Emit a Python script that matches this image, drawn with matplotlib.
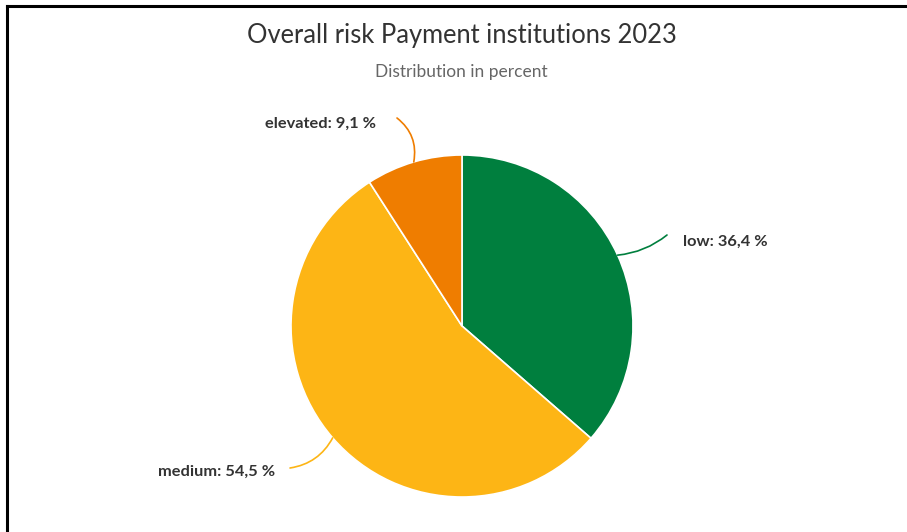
import matplotlib.pyplot as plt
import numpy as np

# ---------- DATA ----------
categories = ["low", "medium", "elevated"]
shares = [36.4, 54.5, 9.1]
colors = ["#007f3e", "#fdb515", "#ef7d00"]

title = "Overall risk Payment institutions 2023"
subtitle = "Distribution in percent"

W, H = 907, 532
plt.rcParams["font.family"] = ["Lato", "DejaVu Sans"]

fig = plt.figure(figsize=(W / 100, H / 100), dpi=100)
ax = fig.add_axes([0, 0, 1, 1])

cx, cy, r = 462, H - 326, 171

wedges, _ = ax.pie(
    shares,
    colors=colors,
    startangle=90,
    counterclock=False,
    center=(cx, cy),
    radius=r,
    wedgeprops=dict(edgecolor="white", linewidth=1.2),
    frame=True,
)
ax.set_xlim(0, W)
ax.set_ylim(0, H)
ax.set_aspect("equal")
ax.axis("off")

# connector end points and label positions (pixels from top-left)
label_ends = {
    "low": ((667, 235), (683, 242), "left", 0.15),
    "medium": ((290, 468), (275, 472), "right", -0.25),
    "elevated": ((397, 118), (376, 124), "right", 0.3),
}

for w, cat, val, col in zip(wedges, categories, shares, colors):
    mid = np.deg2rad((w.theta1 + w.theta2) / 2)
    x0 = cx + r * np.cos(mid)
    y0 = cy + r * np.sin(mid)
    (ex, ey), (tx, ty), ha, rad = label_ends[cat]
    ax.annotate(
        "",
        xy=(ex, H - ey),
        xytext=(x0, y0),
        arrowprops=dict(arrowstyle="-", color=col, lw=1.2,
                        connectionstyle=f"arc3,rad={rad}",
                        shrinkA=0, shrinkB=0),
    )
    ax.text(tx, H - ty, f"{cat}: {val:.1f} %".replace(".", ","),
            ha=ha, va="center", fontsize=11.8, fontweight="bold", color="#333333")

ax.text(W / 2 + 8, H - 35, title, ha="center", va="center",
        fontsize=18.4, color="#333333")
ax.text(W / 2 + 8, H - 72, subtitle, ha="center", va="center",
        fontsize=12.5, color="#666666")

# frame lines at top and left
fig.add_artist(plt.Line2D([7 / W, 1], [1 - 6 / H, 1 - 6 / H], color="black", lw=2.2,
                          transform=fig.transFigure))
fig.add_artist(plt.Line2D([7 / W, 7 / W], [0, 1 - 6 / H], color="black", lw=2.2,
                          transform=fig.transFigure))

fig.savefig("out.png", dpi=100)
